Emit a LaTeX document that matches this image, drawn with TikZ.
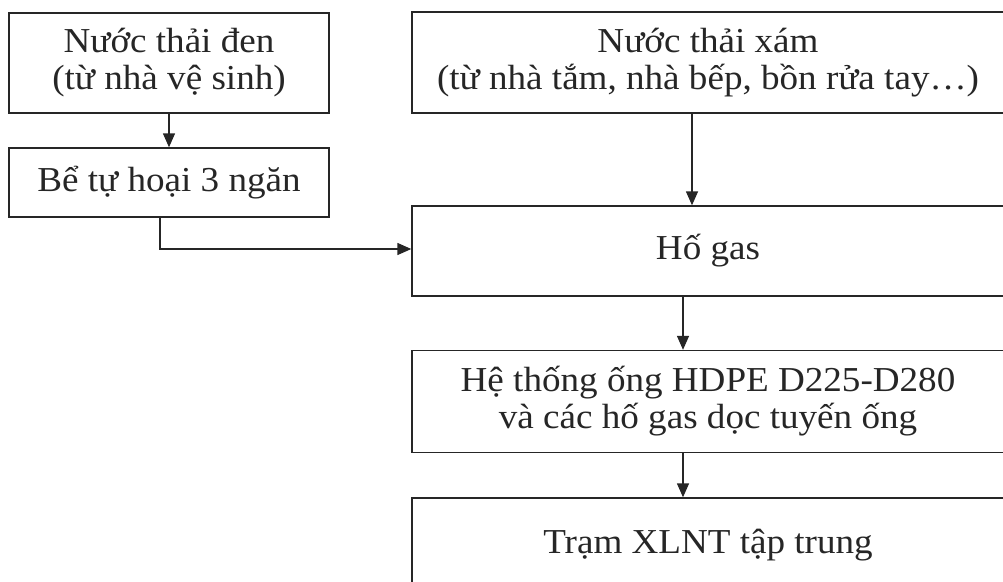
\documentclass[tikz,border=0pt]{standalone}
\usepackage{fontspec}
\setmainfont{Liberation Serif}[FakeStretch=1.06]
\usetikzlibrary{arrows.meta}
\tikzset{
  box/.style={draw=black!85, line width=1.4pt, rectangle, align=center, inner sep=0pt,
    font=\fontsize{35}{37}\selectfont, text=black!85},
  flow/.style={draw=black!85, line width=1.4pt, -{Triangle[length=14pt,width=12pt]}}
}
\begin{document}
\begin{tikzpicture}[x=1pt,y=-1pt]
\useasboundingbox (0,0) rectangle (1003,581);
\clip (0,0) rectangle (1003,581);
\fill[white] (0,0) rectangle (1003,581);
\node[box, minimum width=320pt, minimum height=100pt] (b1) at (169,63) {Nước thải đen\\(từ nhà vệ sinh)};
\node[box, minimum width=320pt, minimum height=69pt] (b2) at (169,182.5) {Bể tự hoại 3 ngăn};
\node[box, minimum width=592pt, minimum height=101pt] (b3) at (708,62.5) {Nước thải xám\\(từ nhà tắm, nhà bếp, bồn rửa tay…)};
\node[box, minimum width=592pt, minimum height=90pt] (b4) at (708,251) {Hố gas};
\node[box, minimum width=592pt, minimum height=102pt] (b5) at (708,401.5) {Hệ thống ống HDPE D225-D280\\và các hố gas dọc tuyến ống};
\node[box, minimum width=592pt, minimum height=94pt] (b6) at (708,545) {Trạm XLNT tập trung};
\draw[flow] (b1) -- (b2);
\draw[flow] ([xshift=-9pt]b2.south) |- ([yshift=2pt]b4.west);
\draw[flow] ([xshift=-16pt]b3.south) -- ([xshift=-16pt]b4.north);
\draw[flow] ([xshift=-25pt]b4.south) -- ([xshift=-25pt]b5.north);
\draw[flow] ([xshift=-25pt]b5.south) -- ([xshift=-25pt]b6.north);
\end{tikzpicture}
\end{document}
